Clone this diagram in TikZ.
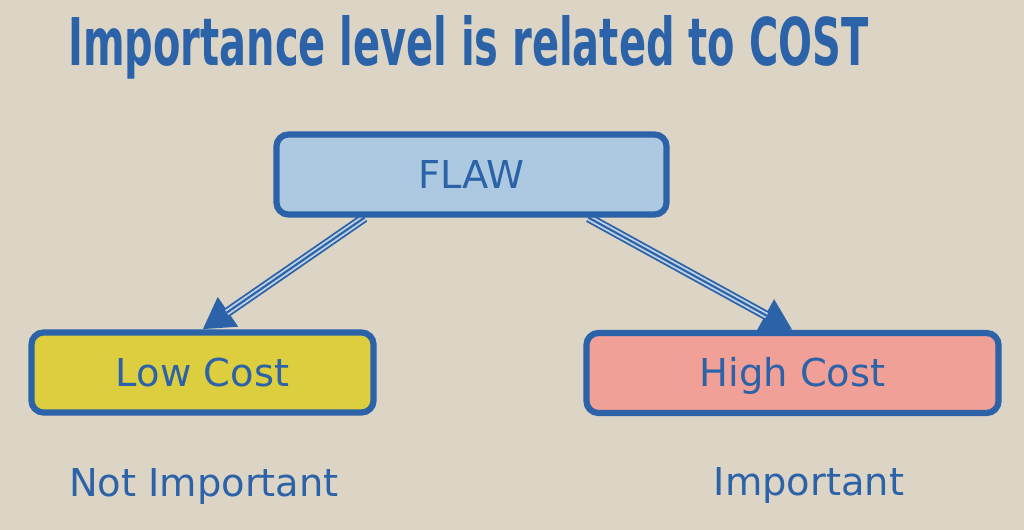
\documentclass[tikz,border=0pt]{standalone}
\usepackage{fontspec}
\setmainfont{DejaVu Sans}
\newfontfamily\headfont{DejaVu Sans Condensed}
\usepackage{graphicx}
\usetikzlibrary{arrows.meta,calc}

\definecolor{paper}{HTML}{DCD5C5}
\definecolor{inkblue}{HTML}{2B62A8}
\definecolor{flawfill}{HTML}{ADC9E1}
\definecolor{lowfill}{HTML}{DDCE3F}
\definecolor{highfill}{HTML}{F0A096}
\definecolor{gapblue}{HTML}{BFD0E3}

\pgfdeclarelayer{bg}
\pgfsetlayers{bg,main}

\tikzset{
  box/.style={draw=inkblue, line width=4.4pt, rounded corners=0.3cm,
    minimum height=2cm, text=inkblue, text height=19.9pt, text depth=0pt,
    font=\fontsize{27.3pt}{33pt}\selectfont},
  verdict/.style={anchor=base, text=inkblue, inner sep=0pt,
    font=\fontsize{27.3pt}{33pt}\selectfont},
  link/.style={draw=inkblue, line width=6.8pt,
    -{Triangle[length=22pt,width=24pt]}},
  linkgap/.style={draw=gapblue, line width=4.2pt, shorten >=21pt},
  linkcore/.style={draw=inkblue, line width=1.5pt, shorten >=21pt}
}

\begin{document}
\begin{tikzpicture}[x=0.025cm, y=-0.025cm]
    \useasboundingbox (0,0) rectangle (1024,530);

    % Title
    \node[anchor=base west, inner sep=0pt, text=inkblue] (title) at (68,66)
      {\resizebox{20cm}{1.25cm}{\headfont\bfseries Importance level is related to COST}};

    % Boxes
    \node[box, fill=flawfill, minimum width=9.75cm] (flaw) at (471.5,174.5) {FLAW};
    \node[box, fill=lowfill, minimum width=8.55cm] (low) at (202.5,372.5) {Low Cost};
    \node[box, fill=highfill, minimum width=10.3cm] (high) at (792.5,373) {High Cost};

    % Verdicts
    \node[verdict] (notimp) at (204,496) {Not Important};
    \node[verdict] (imp) at (809,495) {Important};

    % Links (behind the boxes)
    \coordinate (fl) at ($(flaw.south west)!0.23!(flaw.south east)$);
    \coordinate (fr) at ($(flaw.south west)!0.795!(flaw.south east)$);
    \begin{pgfonlayer}{bg}
      \fill[paper] (0,0) rectangle (1024,530);
      \foreach \a/\b in {fl/low, fr/high} {
        \draw[link] (\a) -- (\b.north);
        \draw[linkgap] (\a) -- (\b.north);
        \draw[linkcore] (\a) -- (\b.north);
      }
    \end{pgfonlayer}
\end{tikzpicture}
\end{document}
